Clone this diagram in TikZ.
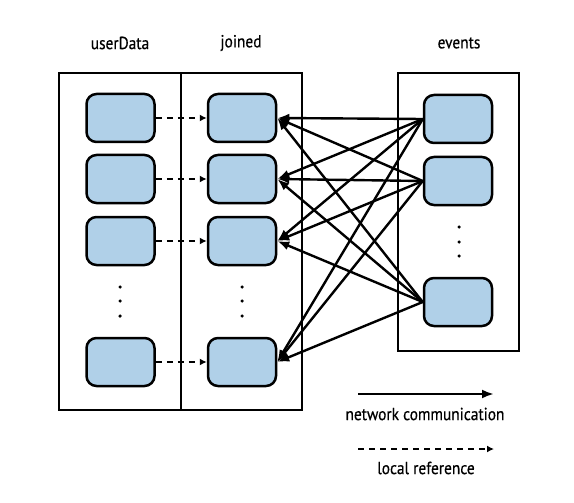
\documentclass[tikz,border=0pt]{standalone}
\usepackage{fontspec}
\setmainfont{PT Sans}[FakeStretch=0.88]
\newfontfamily\lblfont{PT Sans}[FakeStretch=0.88,FakeBold=0.5]
\usetikzlibrary{arrows.meta}
\definecolor{boxblue}{RGB}{176,208,232}
\tikzset{
  item/.style={draw=black, line width=2.5pt, fill=boxblue, rounded corners=10pt, minimum width=68pt, minimum height=48pt, inner sep=0pt},
  frame/.style={draw=black, line width=2pt},
  net/.style={line width=2.4pt, -{Latex[length=12pt,width=9pt]}},
  localref/.style={line width=2.4pt, dash pattern=on 6pt off 5pt, -{Latex[length=7pt,width=7pt]}},
  lbl/.style={font=\lblfont\fontsize{17.5}{20}\selectfont, inner sep=0pt},
  dotmark/.style={circle, fill=black, inner sep=0pt, minimum size=3.5pt}
}
\begin{document}
\begin{tikzpicture}[x=1pt,y=-1pt]
\useasboundingbox (0,0) rectangle (574,503);
% frames
\draw[frame] (59,73) rectangle (302,410);
\draw[frame] (181,73) -- (181,410);
\draw[frame] (398,73) rectangle (519,351);
% titles
\node[lbl] (tu) at (120,43) {userData};
\node[lbl] (tj) at (241,43) {joined};
\node[lbl] (te) at (459,43) {events};
% userData boxes
\node[item] (u1) at (120.5,118) {};
\node[item] (u2) at (120.5,179) {};
\node[item] (u3) at (120.5,241) {};
\node[item] (u4) at (120.5,362) {};
% joined boxes
\node[item] (j1) at (242,118) {};
\node[item] (j2) at (242,179) {};
\node[item] (j3) at (242,241) {};
\node[item] (j4) at (242,362) {};
% events boxes
\node[item] (e1) at (458,119) {};
\node[item] (e2) at (458,181) {};
\node[item] (e3) at (458,302) {};
% dots
\foreach \y [count=\i] in {287,301,316} {
  \node[dotmark] (du\i) at (120,\y) {};
  \node[dotmark] (dj\i) at (242,\y) {};
}
\foreach \y [count=\i] in {227,242,256} {
  \node[dotmark] (de\i) at (459,\y) {};
}
% local references
\foreach \k in {1,2,3,4} {
  \draw[localref] (u\k.east) -- (j\k.west);
}
% network communication
\foreach \e in {1,2,3} {
  \foreach \k in {1,2,3,4} {
    \draw[net] (e\e.west) -- (j\k.east);
  }
}
% legend
\coordinate (ns) at (358,394);
\coordinate (ne) at (494,394);
\draw[net] (ns) -- (ne);
\node[lbl] (nl) at (425,414) {network communication};
\coordinate (ls) at (358,449);
\coordinate (le) at (494,449);
\draw[localref] (ls) -- (le);
\node[lbl] (ll) at (426,468) {local reference};
\end{tikzpicture}
\end{document}
